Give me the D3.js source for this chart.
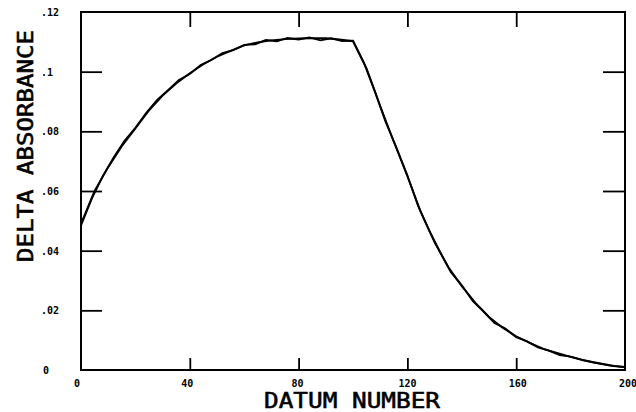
<!DOCTYPE html>
<html>
<head>
<meta charset="utf-8">
<script src="https://cdn.jsdelivr.net/npm/d3@7"></script>
<style>
  body { margin: 0; background: #fff; }
  svg { display: block; }
  .tick-label { font-family: "DejaVu Sans Mono", monospace; font-weight: bold; font-size: 10px; fill: #000; }
  .title { font-family: "DejaVu Sans Mono", monospace; font-size: 22px; fill: #000; stroke: #000; stroke-width: 0.6px; }
</style>
</head>
<body>
<svg id="chart" width="636" height="412"></svg>
<script>
'use strict';

// tick values and their labels
var xTicks = [0, 40, 80, 120, 160, 200];
var xTickLabels = ['0', '40', '80', '120', '160', '200'];
var yTicks = [0, 0.02, 0.04, 0.06, 0.08, 0.1, 0.12];
var yTickLabels = ['0', '.02', '.04', '.06', '.08', '.1', '.12'];

// fitted curve, read every 5 datum points
var fitDatum = [0, 5, 10, 15, 20, 25, 30, 35, 40, 45, 50, 55, 60, 65, 70, 75, 80, 85, 90, 95,
  100, 105, 110, 115, 120, 125, 130, 135, 140, 145, 150, 155, 160, 165, 170, 175, 180, 185, 190, 195, 200];
var fitValues = [0.049, 0.060, 0.068, 0.075, 0.081, 0.087, 0.092, 0.096, 0.0995, 0.1025,
  0.105, 0.107, 0.1088, 0.1098, 0.1105, 0.1109, 0.1111, 0.1112, 0.1112, 0.1108,
  0.1102, 0.101, 0.0885, 0.0765, 0.065, 0.0528, 0.0428, 0.0345, 0.0281, 0.0225,
  0.0178, 0.0142, 0.0113, 0.0091, 0.0071, 0.0057, 0.0044, 0.0032, 0.0022, 0.0014, 0.0009];

// measured data, read every 4 datum points
var dataDatum = [0, 4, 8, 12, 16, 20, 24, 28, 32, 36, 40, 44, 48, 52, 56, 60, 64, 68, 72, 76,
  80, 84, 88, 92, 96, 100, 104, 108, 112, 116, 120, 124, 128, 132, 136, 140, 144, 148, 152, 156,
  160, 164, 168, 172, 176, 180, 184, 188, 192, 196, 200];
var dataValues = [0.0485, 0.0575, 0.0650, 0.0712, 0.0768, 0.0812, 0.0862, 0.0905, 0.0938, 0.0972,
  0.0992, 0.1022, 0.1040, 0.1062, 0.1072, 0.1090, 0.1092, 0.1106, 0.1102, 0.1113,
  0.1108, 0.1115, 0.1105, 0.1112, 0.1103, 0.1104, 0.1030, 0.0935, 0.0832, 0.0745,
  0.0652, 0.0548, 0.0468, 0.0396, 0.0328, 0.0284, 0.0232, 0.0196, 0.0158, 0.0139,
  0.0110, 0.0096, 0.0076, 0.0065, 0.0050, 0.0045, 0.0035, 0.0027, 0.0020, 0.0014, 0.0010];

var plotLeft = 81, plotRight = 625, plotTop = 12, plotBottom = 370;

var svg = d3.select('#chart');

var x = d3.scaleLinear().domain([0, 200]).range([plotLeft, plotRight]);
var y = d3.scaleLinear().domain([0, 0.12]).range([plotBottom, plotTop]);

// inner tick marks on all four sides
var inner = function (g) {
  g.select('.domain').remove();
  g.selectAll('.tick line').attr('stroke', '#000').attr('stroke-width', 1.8);
  g.selectAll('.tick text').remove();
};

svg.append('g').attr('transform', 'translate(0,' + plotBottom + ')')
  .call(d3.axisBottom(x).tickValues(xTicks.slice(1, -1)).tickSize(-12)).call(inner);
svg.append('g').attr('transform', 'translate(0,' + plotTop + ')')
  .call(d3.axisTop(x).tickValues(xTicks.slice(1, -1)).tickSize(-15)).call(inner);
svg.append('g').attr('transform', 'translate(' + plotLeft + ',0)')
  .call(d3.axisLeft(y).tickValues(yTicks.slice(1, -1)).tickSize(-21)).call(inner);
svg.append('g').attr('transform', 'translate(' + plotRight + ',0)')
  .call(d3.axisRight(y).tickValues(yTicks.slice(1, -1)).tickSize(-22)).call(inner);

// frame
svg.append('rect')
  .attr('x', plotLeft).attr('y', plotTop)
  .attr('width', plotRight - plotLeft).attr('height', plotBottom - plotTop)
  .attr('fill', 'none').attr('stroke', '#000').attr('stroke-width', 2);

// tick labels (the plotter drifts a little to the right along the axis)
svg.selectAll('.xlab').data(xTicks).enter().append('text')
  .attr('class', 'tick-label')
  .attr('x', function (d) { return x(d) - 4 + d * 0.035; })
  .attr('y', 387)
  .attr('text-anchor', 'middle')
  .text(function (d, i) { return xTickLabels[i]; });

svg.selectAll('.ylab').data(yTicks).enter().append('text')
  .attr('class', 'tick-label')
  .attr('x', function (d) { return d === 0 ? 43 : 41; })
  .attr('y', function (d) { return y(d) + 4; })
  .text(function (d, i) { return yTickLabels[i]; });

// curves
var line = d3.line()
  .x(function (d) { return x(d[0]); })
  .y(function (d) { return y(d[1]); });

svg.append('path')
  .attr('d', line(d3.zip(fitDatum, fitValues)))
  .attr('fill', 'none').attr('stroke', '#000').attr('stroke-width', 1.9);

svg.append('path')
  .attr('d', line(d3.zip(dataDatum, dataValues)))
  .attr('fill', 'none').attr('stroke', '#000').attr('stroke-width', 1.9);

// axis titles
svg.append('text')
  .attr('class', 'title')
  .attr('x', 352).attr('y', 408)
  .attr('text-anchor', 'middle')
  .attr('textLength', 176).attr('lengthAdjust', 'spacingAndGlyphs')
  .text('DATUM NUMBER');

svg.append('text')
  .attr('class', 'title')
  .attr('transform', 'translate(33,146) rotate(-90)')
  .attr('text-anchor', 'middle')
  .attr('textLength', 232).attr('lengthAdjust', 'spacingAndGlyphs')
  .text('DELTA ABSORBANCE');
</script>
</body>
</html>
